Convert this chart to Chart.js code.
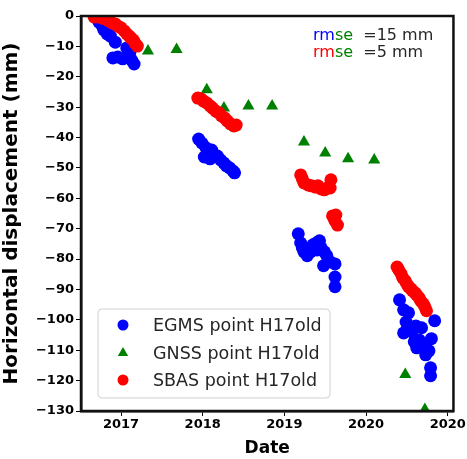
<!DOCTYPE html>
<html>
<head>
<meta charset="utf-8">
<script src="https://cdn.jsdelivr.net/npm/chart.js@4/dist/chart.umd.min.js"></script>
<style>
  html, body { margin: 0; padding: 0; background: #fff; }
  #wrap { width: 467px; height: 459px; }
</style>
</head>
<body>
<div id="wrap"><canvas id="chart" width="467" height="459"></canvas></div>
<script>
// decimal year / displacement in mm
var egmsX = [2016.70, 2016.73, 2016.77, 2016.79, 2016.83, 2016.87, 2016.93, 2016.90, 2016.96, 2017.02, 2017.07, 2017.11, 2017.13, 2017.16, 2017.10,
  2017.95, 2017.99, 2018.04, 2018.07, 2018.02, 2018.09, 2018.13, 2018.18, 2018.22, 2018.26, 2018.29, 2018.33, 2018.37, 2018.39, 2018.11,
  2019.17, 2019.20, 2019.22, 2019.24, 2019.28, 2019.32, 2019.35, 2019.39, 2019.43, 2019.45, 2019.49, 2019.52, 2019.48, 2019.56, 2019.62, 2019.62, 2019.62, 2019.40,
  2020.41, 2020.46, 2020.52, 2020.49, 2020.46, 2020.56, 2020.61, 2020.68, 2020.62, 2020.72, 2020.77, 2020.84, 2020.80, 2020.79, 2020.79, 2020.73, 2020.59, 2020.51, 2020.65];
var egmsY = [-0.7, -2.0, -3.3, -4.6, -5.9, -6.6, -8.6, -13.8, -13.5, -14.1, -10.5, -11.8, -14.5, -15.8, -13.2,
  -40.5, -41.8, -43.4, -44.7, -46.4, -47.0, -45.4, -46.1, -47.4, -48.4, -49.3, -50.0, -51.0, -51.6, -44.1,
  -71.7, -74.7, -76.3, -77.6, -78.9, -77.6, -75.3, -74.7, -74.0, -76.3, -77.6, -78.9, -82.2, -80.9, -81.6, -85.9, -89.1, -77.0,
  -93.4, -96.7, -97.7, -100.7, -104.3, -103.9, -102.0, -102.6, -109.2, -108.2, -110.2, -100.3, -106.2, -115.8, -118.4, -111.5, -107.2, -102.3, -106.6];

var gnssX = [2017.33, 2017.68, 2018.05, 2018.26, 2018.56, 2018.85, 2019.24, 2019.50, 2019.78, 2020.10, 2020.48, 2020.72];
var gnssY = [-11.5, -11.0, -24.3, -30.3, -29.6, -29.6, -41.5, -45.1, -47.0, -47.4, -118.0, -129.5];

var sbasX = [2016.67, 2016.72, 2016.77, 2016.82, 2016.85, 2016.89, 2016.93, 2016.96, 2017.00, 2017.04, 2017.07, 2017.10, 2017.12, 2017.15, 2017.17, 2017.20,
  2017.94, 2017.98, 2018.01, 2018.05, 2018.09, 2018.12, 2018.16, 2018.20, 2018.23, 2018.27, 2018.30, 2018.34, 2018.38, 2018.41,
  2019.20, 2019.22, 2019.24, 2019.29, 2019.33, 2019.38, 2019.41, 2019.45, 2019.49, 2019.54, 2019.57, 2019.56, 2019.59, 2019.63, 2019.62, 2019.65, 2019.61,
  2020.38, 2020.40, 2020.43, 2020.45, 2020.48, 2020.50, 2020.52, 2020.55, 2020.57, 2020.60, 2020.62, 2020.65, 2020.67, 2020.70, 2020.72, 2020.74];
var sbasY = [-0.3, -0.3, -0.7, -1.0, -1.6, -2.3, -2.6, -3.3, -3.9, -4.9, -5.9, -6.6, -7.2, -7.9, -8.9, -9.9,
  -27.0, -27.3, -28.0, -28.6, -29.6, -30.3, -31.3, -31.9, -32.9, -33.6, -34.5, -35.5, -36.2, -35.9,
  -52.3, -53.6, -54.9, -55.6, -55.9, -56.3, -55.9, -56.9, -57.2, -56.3, -53.9, -56.6, -65.8, -65.5, -67.4, -68.8, -66.8,
  -82.6, -83.6, -84.9, -86.2, -87.2, -88.2, -89.1, -89.8, -90.5, -91.1, -91.8, -92.8, -93.8, -94.7, -95.7, -97.0];

var seriesNames = ['EGMS point H17old', 'GNSS point H17old', 'SBAS point H17old'];
var xTickValues = [2017, 2018, 2019, 2020, 2021];
var xTickLabels = ['2017', '2018', '2019', '2020', '2020'];
var yTickValues = [0, -10, -20, -30, -40, -50, -60, -70, -80, -90, -100, -110, -120, -130];
var rmseLines = [['rm', 'se', '  =15 mm'], ['rm', 'se', '  =5 mm']];

var BLUE = '#0000ff', GREEN = '#008000', RED = '#ff0000';
var FONT = '"DejaVu Sans", sans-serif';

function pts(xs, ys) {
  return xs.map(function (x, i) { return { x: x, y: ys[i] }; });
}

// frame, legend box and rmse note
var extras = {
  id: 'extras',
  afterDraw: function (chart) {
    var ctx = chart.ctx, a = chart.chartArea;
    ctx.save();
    ctx.strokeStyle = '#111';
    ctx.lineWidth = 2.5;
    ctx.strokeRect(a.left, a.top, a.right - a.left, a.bottom - a.top);

    // legend
    var bx = 98, by = 309, bw = 232, bh = 89;
    ctx.fillStyle = 'rgba(255,255,255,0.8)';
    ctx.strokeStyle = '#d0d0d0';
    ctx.lineWidth = 1;
    ctx.beginPath();
    ctx.roundRect(bx, by, bw, bh, 4);
    ctx.fill();
    ctx.stroke();
    var rows = [325, 353, 380];
    chart.data.datasets.forEach(function (ds, i) {
      var y = rows[i];
      ctx.fillStyle = ds.backgroundColor;
      Chart.helpers.drawPoint(ctx, { pointStyle: ds.pointStyle, radius: ds.pointStyle === 'triangle' ? 6 : 5.5, borderWidth: 0 }, 123, y);
      ctx.fillStyle = '#262626';
      ctx.font = '17.5px ' + FONT;
      ctx.textBaseline = 'middle';
      ctx.textAlign = 'left';
      ctx.fillText(seriesNames[i], 153, y + 1);
    });

    // rmse note
    ctx.font = '16px ' + FONT;
    ctx.textBaseline = 'middle';
    var firstCols = [BLUE, RED];
    rmseLines.forEach(function (parts, i) {
      var x = 313, y = 36 + i * 17;
      var cols = [firstCols[i], GREEN, '#262626'];
      parts.forEach(function (p, j) {
        ctx.fillStyle = cols[j];
        ctx.fillText(p, x, y);
        x += ctx.measureText(p).width;
      });
    });
    ctx.restore();
  }
};

new Chart(document.getElementById('chart'), {
  type: 'scatter',
  data: {
    datasets: [
      { label: seriesNames[0], data: pts(egmsX, egmsY), backgroundColor: BLUE, borderWidth: 0, pointRadius: 6.5, pointStyle: 'circle', order: 3 },
      { label: seriesNames[1], data: pts(gnssX, gnssY), backgroundColor: GREEN, borderWidth: 0, pointRadius: 7, pointStyle: 'triangle', order: 2 },
      { label: seriesNames[2], data: pts(sbasX, sbasY), backgroundColor: RED, borderWidth: 0, pointRadius: 6.5, pointStyle: 'circle', order: 1 }
    ]
  },
  options: {
    responsive: false,
    animation: false,
    layout: { padding: { left: 0, top: 16, right: 12, bottom: 0 } },
    plugins: { legend: { display: false }, tooltip: { enabled: false } },
    scales: {
      x: {
        type: 'linear',
        min: 2016.51,
        max: 2021.07,
        afterBuildTicks: function (scale) {
          scale.ticks = xTickValues.map(function (v) { return { value: v }; });
        },
        afterFit: function (scale) { scale.height = 48; },
        ticks: {
          color: '#000',
          font: { family: FONT, size: 13, weight: 'bold' },
          padding: 1,
          maxRotation: 0,
          callback: function (v) { return xTickLabels[xTickValues.indexOf(v)]; }
        },
        grid: { drawOnChartArea: false, color: '#000', tickLength: 5, tickWidth: 1 },
        border: { color: '#111', width: 2.5 },
        title: { display: true, text: 'Date', color: '#000', font: { family: FONT, size: 17, weight: 'bold' }, padding: { top: 0, bottom: 0 } }
      },
      y: {
        min: -130,
        max: 0,
        afterBuildTicks: function (scale) {
          scale.ticks = yTickValues.map(function (v) { return { value: v }; });
        },
        afterFit: function (scale) { scale.width = 81; },
        ticks: {
          color: '#000',
          font: { family: FONT, size: 13, weight: 'bold' },
          padding: 2,
          callback: function (v) { return v < 0 ? '\u2212' + Math.abs(v) : String(v); }
        },
        grid: { drawOnChartArea: false, color: '#000', tickLength: 5, tickWidth: 1 },
        border: { color: '#111', width: 2.5 },
        title: { display: true, text: 'Horizontal displacement (mm)', color: '#000', font: { family: FONT, size: 20, weight: 'bold' }, padding: { top: 0, bottom: 1 } }
      }
    }
  },
  plugins: [extras]
});
</script>
</body>
</html>
